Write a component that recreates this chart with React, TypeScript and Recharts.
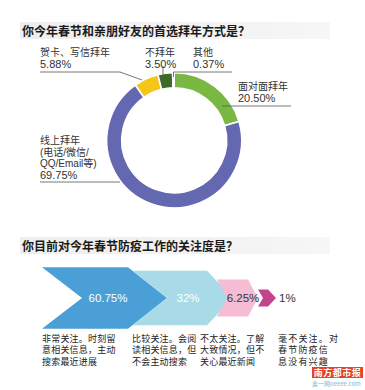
import { Bar, BarChart, Cell, Pie, PieChart, XAxis, YAxis } from "recharts";

// 首选拜年方式
const METHOD_NAMES = ["面对面拜年", "线上拜年\n(电话/微信/\nQQ/Email等)", "贺卡、写信拜年", "不拜年", "其他"];
const METHOD_SHARES = [20.5, 69.75, 5.88, 3.5, 0.37];

// 防疫关注度
const ATTENTION_LEVELS = ["非常关注", "比较关注", "不太关注", "毫不关注"];
const ATTENTION_SHARES = [60.75, 32, 6.25, 1];
const ATTENTION_NOTES = [
  ["非常关注。时刻留", "意相关信息，主动", "搜索最近进展"],
  ["比较关注。会阅", "读相关信息，但", "不会主动搜索"],
  ["不太关注。了解", "大致情况，但不", "关心最近新闻"],
  ["毫不关注。对", "春节防疫信", "息没有兴趣"],
];

const TITLE_1 = "你今年春节和亲朋好友的首选拜年方式是？";
const TITLE_2 = "你目前对今年春节防疫工作的关注度是？";

const PIE_COLORS = ["#7bb843", "#6368b0", "#f6c51a", "#3b6b25", "#e6e6e6"];

const FONT = '"Liberation Sans", Arial, "Noto Sans CJK SC", sans-serif';
const CJK_BOLD = '"Noto Sans CJK SC", sans-serif';

// label placement for each slice (text start, first line centre, leader line)
const LABEL_LAYOUT = [
  { x: 238, y: 86, line: "222,106 291,106" },
  { x: 40, y: 140.5, line: "40,182 120,182" },
  { x: 40, y: 52, line: "40,72 120,72 142,80" },
  { x: 145, y: 52, line: "163,66 163,86" },
  { x: 193, y: 52, line: "232,72 173.5,72 173.5,77" },
];

// chevron row
const ROW_SVG_TOP = 230;
const ROW_SVG_H = 110;
const ROW_CY = 68;
const PLOT_H = 66.6;
const ROW_MARGIN = {
  top: ROW_CY - PLOT_H / 2,
  bottom: ROW_SVG_H - ROW_CY - PLOT_H / 2,
  left: 42,
  right: 10,
};

const CHEVRONS = [
  { fill: "#4a9fd6", offset: 0, body: 86, tip: 39, notch: 40, labelX: 66, color: "#fff", anchor: "middle" },
  { fill: "#a8dbe7", offset: 90.5, body: 74.5, tip: 26, notch: 34.5, labelX: 146, color: "#fff", anchor: "middle" },
  { fill: "#f6bcd4", offset: 175, body: 31, tip: 10, notch: 10, labelX: 201, color: "#333", anchor: "middle" },
  { fill: "#c2448e", offset: 216, body: 10, tip: 8, notch: 5, labelX: 237, color: "#333", anchor: "start" },
];

const NOTE_X = [42, 132, 200, 278];

const pieData = METHOD_NAMES.map((name, i) => ({ name, value: METHOD_SHARES[i] }));
const rowData = ATTENTION_LEVELS.map((name, i) => ({ name, share: ATTENTION_SHARES[i] }));

function renderPieLabel(props: any) {
  const { index } = props;
  const lay = LABEL_LAYOUT[index];
  if (!lay) return null;
  const lines = METHOD_NAMES[index].split("\n");
  return (
    <g key={`lbl-${index}`}>
      <polyline points={lay.line} fill="none" stroke="#555" strokeWidth={0.8} />
      <text x={lay.x} y={lay.y + 3.6} fontSize={10} fill="#333" fontFamily={FONT}>
        {lines.map((l, i) => (
          <tspan key={i} x={lay.x} dy={i === 0 ? 0 : 11.6}>
            {l}
          </tspan>
        ))}
        <tspan x={lay.x} dy={lines.length > 1 ? 11.6 : 12} fontSize={11}>
          {METHOD_SHARES[index].toFixed(2)}%
        </tspan>
      </text>
    </g>
  );
}

function Chevron(props: any) {
  const { y, height, index, payload } = props;
  const s = CHEVRONS[index];
  const base = y + height;
  const cy = base - PLOT_H / 2;
  const half = height / 2;
  const L = ROW_MARGIN.left + s.offset;
  const pts = [
    [L, cy - half],
    [L + s.body, cy - half],
    [L + s.body + s.tip, cy],
    [L + s.body, cy + half],
    [L, cy + half],
    [L + s.notch, cy],
  ]
    .map((p) => p.join(","))
    .join(" ");
  return (
    <g>
      <polygon points={pts} fill={s.fill} />
      <text
        x={ROW_MARGIN.left + s.labelX}
        y={cy}
        dy={4}
        textAnchor={s.anchor as any}
        fontSize={11.5}
        fill={s.color}
        fontFamily={FONT}
      >
        {`${payload.share}%`}
      </text>
    </g>
  );
}

export default function App() {
  return (
    <div
      style={{
        position: "absolute",
        left: 0,
        top: 0,
        width: 365,
        height: 390,
        background: "#fff",
        fontFamily: FONT,
        overflow: "hidden",
      }}
    >
      <div
        style={{
          position: "absolute",
          left: 20,
          top: 22,
          width: 310,
          height: 17,
          background: "linear-gradient(90deg, #eeeeee, #f4f4f4 80%, #f7f7f7)",
        }}
      />
      <div
        style={{
          position: "absolute",
          left: 22,
          top: 22,
          lineHeight: "17px",
          fontSize: 12,
          fontWeight: 700,
          color: "#1a1a1a",
          fontFamily: CJK_BOLD,
          whiteSpace: "nowrap",
        }}
      >
        {TITLE_1}
      </div>

      <div style={{ position: "absolute", left: 0, top: 0 }}>
        <PieChart width={365} height={225} margin={{ top: 0, right: 0, bottom: 0, left: 0 }}>
          <Pie
            data={pieData}
            dataKey="value"
            nameKey="name"
            cx={174.2}
            cy={140.3}
            innerRadius={52.5}
            outerRadius={67.5}
            startAngle={90}
            endAngle={-270}
            stroke="#fff"
            strokeWidth={1.6}
            label={renderPieLabel}
            labelLine={false}
            isAnimationActive={false}
          >
            {pieData.map((d, i) => (
              <Cell key={d.name} fill={PIE_COLORS[i]} />
            ))}
          </Pie>
        </PieChart>
      </div>

      <div
        style={{
          position: "absolute",
          left: 20,
          top: 237,
          width: 310,
          height: 17,
          background: "linear-gradient(90deg, #eeeeee, #f4f4f4 80%, #f7f7f7)",
        }}
      />
      <div
        style={{
          position: "absolute",
          left: 22,
          top: 237,
          lineHeight: "17px",
          fontSize: 12,
          fontWeight: 700,
          color: "#1a1a1a",
          fontFamily: CJK_BOLD,
          whiteSpace: "nowrap",
        }}
      >
        {TITLE_2}
      </div>

      <div style={{ position: "absolute", left: 0, top: ROW_SVG_TOP }}>
        <BarChart width={365} height={ROW_SVG_H} data={rowData} margin={ROW_MARGIN}>
          <XAxis dataKey="name" hide />
          <YAxis type="number" scale="log" domain={[0.2, 100]} allowDataOverflow hide />
          <Bar dataKey="share" shape={<Chevron />} isAnimationActive={false} />
        </BarChart>
      </div>

      {ATTENTION_NOTES.map((lines, i) => (
        <div
          key={ATTENTION_LEVELS[i]}
          style={{
            position: "absolute",
            left: NOTE_X[i],
            top: 332.5,
            fontSize: 9,
            lineHeight: "11.6px",
            color: "#222",
            whiteSpace: "pre",
            fontFamily: '"Noto Sans CJK SC", sans-serif',
            letterSpacing: i === 3 ? 1.2 : 0.2,
          }}
        >
          {lines.join("\n")}
        </div>
      ))}

      <div
        style={{
          position: "absolute",
          left: 312,
          top: 367,
          width: 51,
          height: 11,
          background: "#e2452b",
          color: "#fff",
          fontSize: 9,
          lineHeight: "11px",
          fontWeight: 700,
          textAlign: "center",
          fontFamily: CJK_BOLD,
          letterSpacing: 0.5,
        }}
      >
        南方都市报
      </div>
      <div
        style={{
          position: "absolute",
          left: 312,
          top: 380,
          fontSize: 6,
          lineHeight: "8px",
          color: "#7cb6d8",
          whiteSpace: "nowrap",
          fontFamily: '"Noto Sans CJK SC", sans-serif',
        }}
      >
        奥一网oeeee.com
      </div>
    </div>
  );
}
